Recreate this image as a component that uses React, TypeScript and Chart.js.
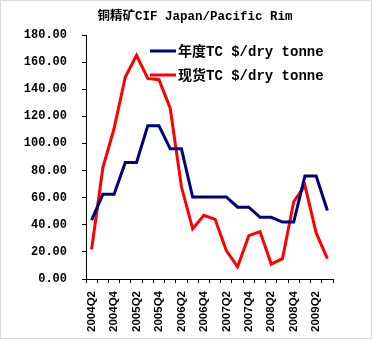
import React, { useEffect, useRef } from "react";
import { Chart, registerables } from "chart.js";

Chart.register(...registerables);

const TITLE = "铜精矿CIF Japan/Pacific Rim";

const categories = [
  "2004Q2", "2004Q3", "2004Q4",
  "2005Q1", "2005Q2", "2005Q3", "2005Q4",
  "2006Q1", "2006Q2", "2006Q3", "2006Q4",
  "2007Q1", "2007Q2", "2007Q3", "2007Q4",
  "2008Q1", "2008Q2", "2008Q3", "2008Q4",
  "2009Q1", "2009Q2", "2009Q3",
];

const annualLabel = "年度TC $/dry tonne";
const annualTC = [43.5, 62.5, 62.5, 86, 86, 113, 113, 96, 96, 60.5, 60.5, 60.5, 60.5, 53, 53, 45.5, 45.5, 42, 42, 76, 76, 50.5];

const spotLabel = "现货TC $/dry tonne";
const spotTC = [22, 82, 111, 149, 165, 148, 147, 126, 68, 37, 47, 44, 21, 9, 32, 35, 11, 15, 57, 69, 34, 15];

const yMin = 0;
const yMax = 180;
const yStep = 20;

const MONO = "'Liberation Mono', 'Noto Sans CJK SC', monospace";

const overlayPlugin = {
  id: "overlay",
  afterDraw(chart: any) {
    const ctx = chart.ctx;
    ctx.save();
    // frame
    ctx.strokeStyle = "#d9d9d9";
    ctx.lineWidth = 1;
    ctx.strokeRect(0.5, 0.5, 371, 338);
    // title
    ctx.fillStyle = "#000";
    ctx.font = `bold 12.5px ${MONO}`;
    ctx.textAlign = "center";
    ctx.textBaseline = "middle";
    ctx.fillText(TITLE, 195, 17);
    // legend
    const rows = [51, 75];
    chart.data.datasets.forEach((ds: any, i: number) => {
      const y = rows[i];
      ctx.strokeStyle = ds.borderColor;
      ctx.lineWidth = 3;
      ctx.beginPath();
      ctx.moveTo(150, y);
      ctx.lineTo(176, y);
      ctx.stroke();
      ctx.fillStyle = "#000";
      ctx.font = `bold 14px ${MONO}`;
      ctx.textAlign = "left";
      ctx.textBaseline = "middle";
      ctx.fillText(ds.label, 178, y + 1);
    });
    ctx.restore();
  },
};

export default function App() {
  const ref = useRef<HTMLCanvasElement | null>(null);

  useEffect(() => {
    document.body.style.margin = "0";
    const canvas = ref.current;
    if (!canvas) return;
    const chart = new Chart(canvas, {
      type: "line",
      data: {
        labels: categories,
        datasets: [
          {
            label: annualLabel,
            data: annualTC,
            borderColor: "#000080",
            backgroundColor: "#000080",
            borderWidth: 3,
            pointRadius: 0,
            tension: 0,
            fill: false,
          },
          {
            label: spotLabel,
            data: spotTC,
            borderColor: "#ff0000",
            backgroundColor: "#ff0000",
            borderWidth: 3,
            pointRadius: 0,
            tension: 0,
            fill: false,
          },
        ],
      },
      options: {
        responsive: false,
        animation: false,
        devicePixelRatio: 1,
        layout: { padding: { top: 35, right: 40, left: 0, bottom: 0 } },
        plugins: {
          legend: { display: false },
          title: { display: false },
          tooltip: { enabled: false },
        },
        scales: {
          x: {
            type: "category",
            offset: true,
            afterFit(scale: any) {
              scale.height = 61;
            },
            grid: {
              offset: true,
              drawOnChartArea: false,
              drawTicks: true,
              tickLength: 4,
              color: "#000",
              tickColor: "#000",
            },
            border: { color: "#000", width: 1 },
            ticks: {
              autoSkip: false,
              minRotation: 90,
              maxRotation: 90,
              padding: 8,
              color: "#000",
              font: { family: "'Liberation Sans', Arial, sans-serif", size: 11.5, weight: "bold" },
              callback: (_v: any, i: number) => (i % 2 === 0 ? categories[i] : ""),
            },
          },
          y: {
            min: yMin,
            max: yMax,
            afterFit(scale: any) {
              scale.width = 86;
            },
            grid: {
              drawOnChartArea: false,
              drawTicks: true,
              tickLength: 4,
              color: "#000",
              tickColor: "#000",
            },
            border: { color: "#000", width: 1 },
            ticks: {
              stepSize: yStep,
              padding: 15,
              color: "#000",
              font: { family: MONO, size: 12, weight: "bold" },
              callback: (v: any) => Number(v).toFixed(2),
            },
          },
        },
      },
      plugins: [overlayPlugin],
    });
    return () => chart.destroy();
  }, []);

  return (
    <div style={{ width: 373, height: 340, background: "#fff" }}>
      <canvas ref={ref} width={373} height={340} style={{ display: "block" }} />
    </div>
  );
}
